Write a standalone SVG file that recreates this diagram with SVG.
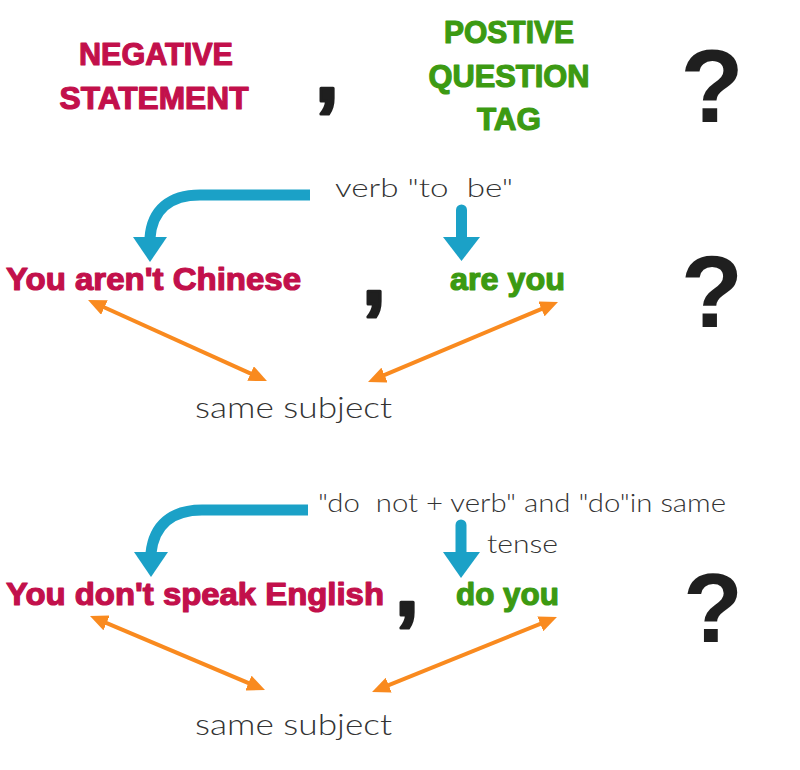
<svg xmlns="http://www.w3.org/2000/svg" width="800" height="770" viewBox="0 0 800 770">
<style>
.neg{font-family:"Liberation Sans",Arial,sans-serif;font-weight:bold;fill:#c2104b;stroke:#c2104b;stroke-width:1.2;stroke-linejoin:round}
.pos{font-family:"Liberation Sans",Arial,sans-serif;font-weight:bold;fill:#3c9a12;stroke:#3c9a12;stroke-width:1.2;stroke-linejoin:round}
.lt{font-family:Lato,"Open Sans",sans-serif;font-weight:300;fill:#333333;white-space:pre}
.pun{font-family:"Liberation Sans",Arial,sans-serif;font-weight:bold;fill:#1f1f1f}
.cm{font-family:"Liberation Sans",Arial,sans-serif;font-weight:bold;fill:#1f1f1f;stroke:#1f1f1f;stroke-width:3;stroke-linejoin:round}
.blue{fill:none;stroke:#1ba1c7;stroke-width:11}
.bhead{fill:#1ba1c7}
.or{stroke:#f98a1f;stroke-width:4;fill:none;marker-start:url(#oh);marker-end:url(#oh)}
</style>
<defs>
<marker id="oh" markerUnits="userSpaceOnUse" viewBox="0 0 18 16" markerWidth="18" markerHeight="16" refX="12" refY="8" orient="auto-start-reverse">
<path d="M0,0 L18,8 L0,16 Z" fill="#f98a1f"/>
</marker>
</defs>
<rect width="800" height="770" fill="#ffffff"/>

<g id="header-negative">
<text class="neg" x="156" y="65" font-size="31" text-anchor="middle" textLength="154" lengthAdjust="spacingAndGlyphs">NEGATIVE</text>
<text class="neg" x="154" y="109" font-size="31" text-anchor="middle" textLength="189" lengthAdjust="spacingAndGlyphs">STATEMENT</text>
</g>
<g id="header-comma"><text class="cm" x="315" y="101" font-size="86">,</text></g>
<g id="header-positive">
<text class="pos" x="509" y="43" font-size="31" text-anchor="middle" textLength="130" lengthAdjust="spacingAndGlyphs">POSTIVE</text>
<text class="pos" x="509" y="87" font-size="31" text-anchor="middle" textLength="161" lengthAdjust="spacingAndGlyphs">QUESTION</text>
<text class="pos" x="509" y="130" font-size="31" text-anchor="middle" textLength="64" lengthAdjust="spacingAndGlyphs">TAG</text>
</g>
<g id="header-qmark"><text class="pun" x="712" y="122" font-size="104" text-anchor="middle">?</text></g>

<g id="label-to-be"><text class="lt" x="335" y="197" font-size="26" textLength="178" lengthAdjust="spacingAndGlyphs">verb "to  be"</text></g>
<g id="sentence1">
<text class="neg" x="6" y="290" font-size="31" textLength="295" lengthAdjust="spacingAndGlyphs">You aren't Chinese</text>
</g>
<g id="comma1"><text class="cm" x="362" y="304" font-size="86">,</text></g>
<g id="tag1"><text class="pos" x="450" y="290" font-size="31" textLength="115" lengthAdjust="spacingAndGlyphs">are you</text></g>
<g id="qmark1"><text class="pun" x="712" y="327" font-size="102" text-anchor="middle">?</text></g>
<g id="subject1"><text class="lt" x="195" y="418" font-size="30" textLength="197" lengthAdjust="spacingAndGlyphs">same subject</text></g>

<g id="label-do"><text class="lt" x="318" y="512" font-size="26" textLength="408" lengthAdjust="spacingAndGlyphs">"do  not + verb" and "do"in same</text>
<text class="lt" x="487" y="553" font-size="26" textLength="71" lengthAdjust="spacingAndGlyphs">tense</text></g>
<g id="sentence2">
<text class="neg" x="6" y="605" font-size="31" textLength="378" lengthAdjust="spacingAndGlyphs">You don't speak English</text>
</g>
<g id="comma2"><text class="cm" x="395" y="615" font-size="86">,</text></g>
<g id="tag2"><text class="pos" x="456" y="605" font-size="31" textLength="103" lengthAdjust="spacingAndGlyphs">do you</text></g>
<g id="qmark2"><text class="pun" x="713" y="642" font-size="98" text-anchor="middle">?</text></g>
<g id="subject2"><text class="lt" x="195" y="735" font-size="30" textLength="197" lengthAdjust="spacingAndGlyphs">same subject</text></g>

<g id="connectors">
<path class="blue" d="M310,195 H200 C170,195 152,210 150,238"/>
<polygon class="bhead" points="133,237 167,237 150,262"/>
<path class="blue" d="M461.5,210 V240" stroke-linecap="round"/>
<polygon class="bhead" points="443,237 480,237 461.5,261"/>
<path class="blue" d="M308,510 H202 C172,510 154,525 151,553"/>
<polygon class="bhead" points="134,552 168,552 151,577"/>
<path class="blue" d="M461,525 V555" stroke-linecap="round"/>
<polygon class="bhead" points="443,552 480,552 461,578"/>
<line class="or" x1="93.5" y1="302.5" x2="261.5" y2="378.5"/>
<line class="or" x1="552.5" y1="304.3" x2="373.5" y2="379.7"/>
<line class="or" x1="95.5" y1="618.3" x2="259.5" y2="687.7"/>
<line class="or" x1="551.4" y1="619.3" x2="377.6" y2="689.7"/>
</g>
</svg>
